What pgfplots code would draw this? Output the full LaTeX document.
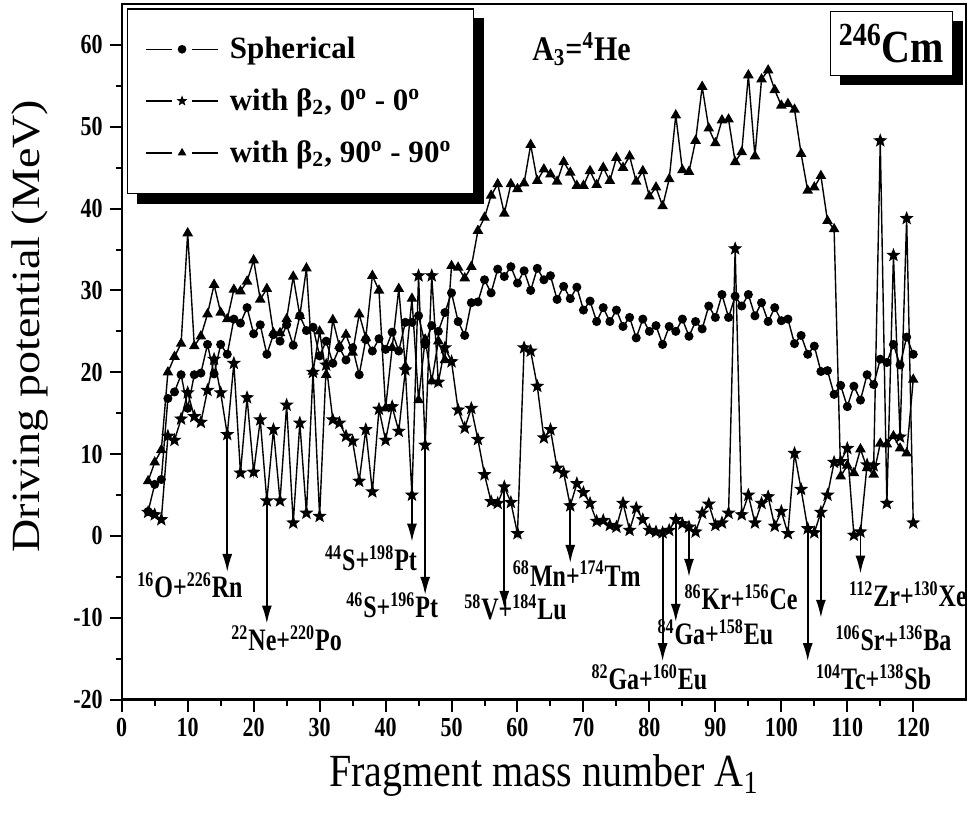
\documentclass[border=0pt]{standalone}
\usepackage{fontspec}
\setmainfont{Liberation Serif}
\usepackage{pgfplots}
\pgfplotsset{compat=1.18}
\usetikzlibrary{arrows.meta,shadows}

\pgfdeclareplotmark{fstar}{%
  \pgfpathmoveto{\pgfqpointpolar{90}{\pgfplotmarksize}}%
  \pgfpathlineto{\pgfqpointpolar{126}{0.42\pgfplotmarksize}}%
  \pgfpathlineto{\pgfqpointpolar{162}{\pgfplotmarksize}}%
  \pgfpathlineto{\pgfqpointpolar{198}{0.42\pgfplotmarksize}}%
  \pgfpathlineto{\pgfqpointpolar{234}{\pgfplotmarksize}}%
  \pgfpathlineto{\pgfqpointpolar{270}{0.42\pgfplotmarksize}}%
  \pgfpathlineto{\pgfqpointpolar{306}{\pgfplotmarksize}}%
  \pgfpathlineto{\pgfqpointpolar{342}{0.42\pgfplotmarksize}}%
  \pgfpathlineto{\pgfqpointpolar{18}{\pgfplotmarksize}}%
  \pgfpathlineto{\pgfqpointpolar{54}{0.42\pgfplotmarksize}}%
  \pgfpathclose
  \pgfusepathqfillstroke
}

\newcommand{\ann}[1]{\scalebox{1}[1.3]{\bfseries\fontsize{12}{14}\selectfont #1}}
\newcommand{\su}[1]{\textsuperscript{#1}}

\begin{document}
\begin{tikzpicture}
\begin{axis}[
  scale only axis,
  width=422pt, height=347.7pt,
  xmin=0, xmax=128, ymin=-20, ymax=65,
  xtick={0,10,...,120}, ytick={-20,-10,...,60},
  minor x tick num=1, minor y tick num=1,
  xtick pos=bottom, ytick pos=left,
  tick align=outside,
  major tick length=6pt, minor tick length=3pt,
  axis line style={line width=1.2pt},
  every tick/.style={black, line width=1pt},
  /pgf/number format/assume math mode=true,
  ticklabel style={font=\bfseries\fontsize{11}{12}\selectfont},
  xticklabel={\scalebox{1}[1.25]{\pgfmathprintnumber{\tick}}},
  yticklabel={\scalebox{1}[1.25]{\pgfmathprintnumber{\tick}}},
  xlabel={\scalebox{1}[1.15]{Fragment mass number A\textsubscript{1}}},
  ylabel={\scalebox{1.15}[1]{Driving potential (MeV)}},
  label style={font=\fontsize{20}{22}\selectfont},
  xlabel style={at={(axis description cs:0.5,0)}, anchor=center, yshift=-38pt},
  ylabel style={at={(axis description cs:0,0.5)}, anchor=center, xshift=12.8pt, yshift=46pt},
  every axis plot/.append style={line width=0.7pt, black, mark options={solid, fill=black}},
  legend image code/.code={
    \draw[#1, mark=none] (0pt,0pt) -- (13pt,0pt) (23pt,0pt) -- (36pt,0pt);
    \draw[#1, mark size=1.8pt, only marks] plot coordinates {(18pt,0pt)};
  },
  legend cell align=left,
  legend style={name=leg, at={(axis description cs:0,1)}, anchor=north west,
    xshift=2.5pt, yshift=-2.2pt, draw=black, line width=0.6pt, fill=white,
    font=\bfseries\fontsize{15.5}{18}\selectfont,
    inner xsep=9pt, inner ysep=12pt, row sep=9.5pt,
    /tikz/every odd column/.append style={column sep=3.5pt}},
]
% Spherical
\addplot[mark=*, mark size=1.9pt] coordinates {
(4,3.0)(5,6.3)(6,6.9)(7,16.8)(8,17.6)(9,19.7)(10,15.6)(11,19.7)(12,19.9)(13,23.4)(14,19.8)(15,23.4)(16,22.2)(17,26.5)(18,26.0)(19,27.9)(20,24.7)(21,25.8)(22,22.2)(23,24.6)(24,23.8)(25,25.8)(26,23.3)(27,26.9)(28,25.1)(29,25.5)(30,22.0)(31,23.8)(32,21.1)(33,23.0)(34,21.5)(35,23.0)(36,19.7)(37,24.0)(38,22.6)(39,24.1)(40,22.8)(41,24.9)(42,22.6)(43,26.1)(44,26.1)(45,26.9)(46,23.4)(47,25.7)(48,25.0)(49,27.3)(50,29.7)(51,26.2)(52,24.5)(53,28.5)(54,28.6)(55,31.3)(56,29.7)(57,32.6)(58,31.7)(59,32.9)(60,30.9)(61,32.4)(62,30.0)(63,32.7)(64,31.3)(65,31.8)(66,28.9)(67,30.5)(68,29.0)(69,30.4)(70,27.6)(71,28.7)(72,26.2)(73,27.9)(74,26.2)(75,27.6)(76,25.6)(77,26.7)(78,24.2)(79,26.5)(80,25.0)(81,25.7)(82,23.4)(83,25.6)(84,25.0)(85,26.5)(86,24.4)(87,26.2)(88,25.3)(89,28.1)(90,26.7)(91,29.5)(92,26.7)(93,29.3)(94,28.1)(95,29.5)(96,26.9)(97,28.5)(98,26.2)(99,27.9)(100,26.3)(101,26.5)(102,23.5)(103,24.5)(104,22.2)(105,23.2)(106,20.1)(107,20.2)(108,17.3)(109,18.4)(110,15.8)(111,18.3)(112,16.6)(113,19.7)(114,18.5)(115,21.6)(116,21.2)(117,23.4)(118,20.9)(119,24.3)(120,22.2)
};
\addlegendentry{Spherical}
% beta2, 0-0
\addplot[mark=fstar, mark size=2.7pt] coordinates {
(4,2.9)(5,2.6)(6,2.0)(7,12.2)(8,11.7)(9,14.3)(10,17.5)(11,14.6)(12,13.9)(13,17.8)(14,21.6)(15,17.5)(16,12.4)(17,21.1)(18,7.7)(19,16.9)(20,7.8)(21,14.2)(22,4.3)(23,13.0)(24,4.3)(25,16.0)(26,1.6)(27,13.8)(28,2.8)(29,20.0)(30,2.4)(31,20.9)(32,14.2)(33,13.8)(34,12.2)(35,11.6)(36,6.7)(37,13.0)(38,5.4)(39,15.5)(40,11.7)(41,15.8)(42,12.8)(43,20.3)(44,5.0)(45,31.8)(46,11.1)(47,31.8)(48,18.8)(49,23.0)(50,21.3)(51,15.4)(52,13.2)(53,15.6)(54,11.8)(55,7.5)(56,4.2)(57,4.0)(58,6.0)(59,4.1)(60,0.3)(61,23.0)(62,22.6)(63,18.3)(64,12.0)(65,13.0)(66,8.3)(67,7.7)(68,3.7)(69,6.4)(70,5.3)(71,4.0)(72,1.8)(73,1.9)(74,1.3)(75,1.1)(76,4.0)(77,0.7)(78,3.4)(79,2.0)(80,0.7)(81,0.5)(82,0.4)(83,0.7)(84,2.0)(85,1.5)(86,1.1)(87,0.5)(88,2.8)(89,3.9)(90,1.3)(91,1.6)(92,2.8)(93,35.1)(94,2.6)(95,5.0)(96,1.6)(97,4.0)(98,4.8)(99,1.2)(100,3.0)(101,0.3)(102,10.1)(103,5.7)(104,0.9)(105,0.4)(106,2.9)(107,5.0)(108,9.0)(109,9.1)(110,10.7)(111,0.1)(112,0.5)(113,8.7)(114,8.6)(115,48.3)(116,4.0)(117,34.3)(118,12.1)(119,38.8)(120,1.6)
};
\addlegendentry{with β\textsubscript{2}, 0\su{o} - 0\su{o}}
% beta2, 90-90
\addplot[mark=triangle*, mark size=2.4pt] coordinates {
(4,6.7)(5,9.0)(6,10.5)(7,20.0)(8,21.9)(9,23.5)(10,37.0)(11,23.2)(12,24.4)(13,27.1)(14,30.7)(15,27.3)(16,26.5)(17,30.1)(18,29.9)(19,31.1)(20,33.7)(21,28.9)(22,30.2)(23,24.8)(24,24.8)(25,26.5)(26,31.7)(27,26.9)(28,32.7)(29,20.1)(30,25.0)(31,19.7)(32,26.4)(33,23.2)(34,24.6)(35,22.4)(36,27.1)(37,24.2)(38,31.8)(39,30.0)(40,15.6)(41,23.0)(42,30.2)(43,20.7)(44,29.0)(45,16.6)(46,24.0)(47,18.9)(48,23.8)(49,21.5)(50,33.0)(51,32.8)(52,31.5)(53,32.9)(54,37.3)(55,38.9)(56,41.6)(57,43.0)(58,39.4)(59,43.0)(60,42.4)(61,43.1)(62,47.8)(63,43.4)(64,44.8)(65,44.2)(66,43.3)(67,45.7)(68,44.4)(69,42.8)(70,42.8)(71,44.6)(72,42.9)(73,45.0)(74,43.4)(75,46.2)(76,45.0)(77,46.4)(78,43.3)(79,44.6)(80,41.5)(81,42.6)(82,40.3)(83,43.6)(84,51.4)(85,44.7)(86,44.5)(87,48.3)(88,54.9)(89,49.8)(90,48.0)(91,50.8)(92,50.9)(93,45.7)(94,46.9)(95,56.3)(96,46.4)(97,55.8)(98,56.9)(99,54.5)(100,52.6)(101,52.8)(102,52.1)(103,46.7)(104,42.2)(105,42.6)(106,44.0)(107,38.5)(108,37.5)(109,7.3)(110,8.6)(111,7.7)(112,10.6)(113,8.3)(114,7.5)(115,11.3)(116,11.2)(117,12.2)(118,10.7)(119,10.1)(120,19.1)
};
\addlegendentry{with β\textsubscript{2}, 90\su{o} - 90\su{o}}

% arrows
\begin{scope}[line width=0.9pt, -{Latex[length=9pt,width=5pt]}]
\draw (axis cs:16,12.4) -- (axis cs:16,-4.4);
\draw (axis cs:22,4.3) -- (axis cs:22,-10.7);
\draw (axis cs:44,5.0) -- (axis cs:44,-0.7);
\draw (axis cs:46,11.1) -- (axis cs:46,-7.2);
\draw (axis cs:58,6.0) -- (axis cs:58,-8.9);
\draw (axis cs:68,3.7) -- (axis cs:68,-3.3);
\draw (axis cs:82,0.4) -- (axis cs:82,-15.3);
\draw (axis cs:84,2.0) -- (axis cs:84,-10.5);
\draw (axis cs:86,1.1) -- (axis cs:86,-5.0);
\draw (axis cs:104,0.9) -- (axis cs:104,-15.3);
\draw (axis cs:106,2.9) -- (axis cs:106,-10.0);
\draw (axis cs:112,0.5) -- (axis cs:112,-4.6);
\end{scope}

% annotations
\node at (axis cs:10.35,-6.0) {\ann{\su{16}O+\su{226}Rn}};
\node at (axis cs:25.0,-12.5) {\ann{\su{22}Ne+\su{220}Po}};
\node at (axis cs:37.8,-2.7) {\ann{\su{44}S+\su{198}Pt}};
\node at (axis cs:41.0,-8.5) {\ann{\su{46}S+\su{196}Pt}};
\node at (axis cs:59.7,-8.7) {\ann{\su{58}V+\su{184}Lu}};
\node at (axis cs:69.0,-4.6) {\ann{\su{68}Mn+\su{174}Tm}};
\node at (axis cs:80.0,-17.3) {\ann{\su{82}Ga+\su{160}Eu}};
\node at (axis cs:90.0,-11.8) {\ann{\su{84}Ga+\su{158}Eu}};
\node at (axis cs:93.9,-7.5) {\ann{\su{86}Kr+\su{156}Ce}};
\node at (axis cs:114.0,-17.3) {\ann{\su{104}Tc+\su{138}Sb}};
\node at (axis cs:117.0,-12.5) {\ann{\su{106}Sr+\su{136}Ba}};
\node at (axis cs:119.2,-7.1) {\ann{\su{112}Zr+\su{130}Xe}};

\node at (axis cs:69.7,59.5) {\scalebox{1}[1.15]{\bfseries\fontsize{15}{17}\selectfont A\textsubscript{3}=\su{4}He}};
\node[draw=black, line width=0.6pt, fill=white, minimum width=61pt, minimum height=32pt,
  drop shadow={shadow xshift=5pt, shadow yshift=-5pt, opacity=1, fill=black}]
  at (axis cs:116.7,60.2) {\scalebox{1}[1.15]{\bfseries\fontsize{20}{22}\selectfont \su{246}Cm}};
\end{axis}
\fill[black] ([yshift=-5pt]leg.north east) rectangle ([xshift=5pt,yshift=-5pt]leg.south east);
\fill[black] ([xshift=5pt]leg.south west) rectangle ([xshift=5pt,yshift=-5pt]leg.south east);
\pgfresetboundingbox
\path[use as bounding box] ([xshift=-60.85pt,yshift=-60.8pt]current axis.south west) rectangle ([xshift=3pt,yshift=2pt]current axis.north east);
\end{tikzpicture}
\end{document}
